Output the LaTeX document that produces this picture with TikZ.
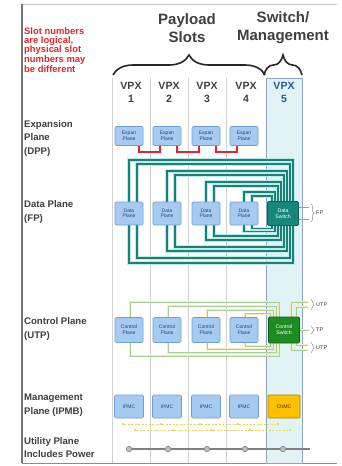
\documentclass[tikz,border=0pt]{standalone}
\usepackage{fontspec}
\setmainfont{Liberation Sans}
\usetikzlibrary{decorations.pathreplacing}
\pgfdeclarelayer{bg}
\pgfdeclarelayer{wires}
\pgfsetlayers{bg,wires,main}

\definecolor{boxfill}{HTML}{A7CBF0}
\definecolor{boxline}{HTML}{6E9ED6}
\definecolor{boxtext}{HTML}{1F3F7A}
\definecolor{tealwire}{HTML}{1C8077}
\definecolor{tealhalo}{HTML}{BDEBEA}
\definecolor{dswfill}{HTML}{17877C}
\definecolor{dswline}{HTML}{0E5F57}
\definecolor{cswfill}{HTML}{1E8C23}
\definecolor{cswline}{HTML}{0F5F12}
\definecolor{chmcfill}{HTML}{FFC000}
\definecolor{chmcline}{HTML}{B07A00}
\definecolor{slotfill}{HTML}{E2F3F8}
\definecolor{slotline}{HTML}{8EA3C6}
\definecolor{labelgray}{HTML}{3F3F3F}
\definecolor{notered}{HTML}{E0262B}
\definecolor{ctlwire}{HTML}{A9CF8E}
\definecolor{ctlhalo}{HTML}{F3EDB8}
\definecolor{busyellow}{HTML}{E9D84A}
\definecolor{slotblue}{HTML}{2F5597}

\begin{document}
\begin{tikzpicture}[x=1pt,y=-1pt,
  pbox/.style={draw=boxline, fill=boxfill, rounded corners=1.2pt, line width=0.6pt,
    minimum width=28pt, inner sep=0pt, align=center, text=boxtext,
    font=\fontsize{5}{5.6}\selectfont},
  swbox/.style={rounded corners=1.2pt, line width=0.7pt, minimum width=31pt,
    inner sep=0pt, align=center, font=\fontsize{5.2}{5.8}\selectfont},
  plane/.style={anchor=west, align=left, text=labelgray, inner sep=0pt,
    font=\bfseries\fontsize{9.6}{13.5}\selectfont},
  slotlab/.style={align=center, text=labelgray, inner sep=0pt,
    font=\bfseries\fontsize{10.5}{12.5}\selectfont},
  title/.style={align=center, text=labelgray, inner sep=0pt,
    font=\bfseries\fontsize{15}{18}\selectfont},
  sidelab/.style={anchor=west, text=labelgray, inner sep=0pt,
    font=\fontsize{5.5}{6}\selectfont},
  fpwire/.style={draw=tealwire, line width=1.2pt,
    preaction={draw=tealhalo, line width=3.4pt}},
  cpwire/.style={draw=ctlwire, line width=0.7pt,
    preaction={draw=ctlhalo, line width=2pt}},
  xlink/.style={draw=notered, line width=1.4pt},
  bigbrace/.style={decorate, decoration={brace, amplitude=20pt}, line width=1.6pt, draw=black!85},
  tinybrace/.style={decorate, decoration={brace, amplitude=3pt}, line width=0.5pt, draw=black!45},
  bus/.style={draw=busyellow, line width=0.6pt, dash pattern=on 2pt off 1.5pt},
  busmark/.style={circle, fill=busyellow!80!orange, inner sep=0pt, minimum size=2.4pt},
  tap/.style={circle, draw=black!55, fill=black!25, line width=0.5pt, inner sep=0pt, minimum size=5.5pt}]

\useasboundingbox (0,0) rectangle (341,466);

% frame and slot columns
\begin{pgfonlayer}{bg}
  \fill[white] (0,0) rectangle (341,466);
  \draw[black!22, line width=0.8pt] (22,4) -- (337,4);
  \draw[black!45, line width=0.8pt] (22,463) -- (337,463);
  \draw[black!55, line width=1.3pt] (22,4) -- (22,463);
  \draw[fill=slotfill, draw=slotline, line width=0.6pt] (266,78) rectangle (302,463);
  \foreach \x in {112,150,188,226}
    \draw[black!18, line width=0.6pt] (\x,78) -- (\x,463);
\end{pgfonlayer}

% note and headings
\node[anchor=west, align=left, text=notered, inner sep=0pt,
  font=\bfseries\fontsize{9.4}{8.7}\selectfont] (note) at (24,50)
  {Slot numbers\\are logical,\\physical slot\\numbers may\\be different};
\node[title] (payload) at (187,28) {Payload\\Slots};
\node[title] (swmgmt) at (283,28) {Switch/\\Management};
\draw[bigbrace] (113,75) -- (265,75);
\draw[bigbrace] (264,75) -- (302,75);

\node[slotlab] (s1) at (131,92.5) {VPX\\1};
\node[slotlab] (s2) at (169,92.5) {VPX\\2};
\node[slotlab] (s3) at (207,92.5) {VPX\\3};
\node[slotlab] (s4) at (246,92.5) {VPX\\4};
\node[slotlab, text=slotblue] (s5) at (284,92.5) {VPX\\5};

% plane names
\node[plane] (lexp) at (24,138.5) {Expansion\\Plane\\(DPP)};
\node[plane] (ldata) at (24,212) {Data Plane\\(FP)};
\node[plane] (lctl) at (24,329) {Control Plane\\(UTP)};
\node[plane] (lmgmt) at (24,405) {Management\\Plane (IPMB)};
\node[plane] (lutil) at (24,447.5) {Utility Plane\\Includes Power};

% expansion plane
\foreach \i/\c in {1/129,2/167,3/206,4/244}
  \node[pbox, minimum height=19pt] (ep\i) at (\c,136) {Expan\\Plane};
\draw[xlink] ([xshift=10pt]ep1.south) -- ++(0,6) -| ([xshift=-7pt]ep2.south);
\draw[xlink] ([xshift=10pt]ep2.south) -- ++(0,6) -| ([xshift=-7pt]ep3.south);
\draw[xlink] ([xshift=10pt]ep3.south) -- ++(0,6) -| ([xshift=-7pt]ep4.south);

% data plane
\foreach \i/\c in {1/129,2/167,3/206,4/244}
  \node[pbox, minimum height=23pt] (dp\i) at (\c,213.5) {Data\\Plane};
\node[swbox, draw=dswline, fill=dswfill, text=white, minimum height=24pt]
  (ds) at (283,213.5) {Data\\Switch};

\begin{pgfonlayer}{wires}
\foreach \i/\ta/\tb/\ba/\bb/\ra/\rb in
  {1/160/164/263/258/293/290, 2/171/175/251/247/287/284,
   3/182/186/240/236/281/278, 4/192/196/231.5/228.5/275/272} {
  \draw[fpwire] (dp\i.north) |- (\ra,\ta) -- (\ra,0 |- ds.north);
  \draw[fpwire] ([xshift=8pt]dp\i.north) |- (\rb,\tb) -- (\rb,0 |- ds.north);
  \draw[fpwire] (dp\i.south) |- (\ra,\ba) -- (\ra,0 |- ds.south);
  \draw[fpwire] ([xshift=8pt]dp\i.south) |- (\rb,\bb) -- (\rb,0 |- ds.south);
}
\end{pgfonlayer}

\coordinate (fpa) at (309,207);
\coordinate (fpb) at (309,219);
\draw[draw=tealwire!60, line width=0.6pt] (ds.east |- fpa) -- (fpa);
\draw[draw=tealwire!60, line width=0.6pt] (ds.east |- fpb) -- (fpb);
\draw[tinybrace] (311,204) -- (311,222);
\node[sidelab] (fp) at (316,213) {FP};

% control plane
\foreach \i/\c in {1/129,2/167,3/206,4/244}
  \node[pbox, minimum height=25pt] (cp\i) at (\c,330) {Control\\Plane};
\node[swbox, draw=cswline, fill=cswfill, text=white, minimum height=26pt]
  (cs) at (284,330) {Control\\Switch};

\begin{pgfonlayer}{wires}
\foreach \i/\ta/\ba/\ra in {1/302/356/279, 2/306/352.5/276, 3/310/349/273, 4/313.5/346/270} {
  \draw[cpwire] ([xshift=1pt]cp\i.north) |- (\ra,\ta) -- (\ra,0 |- cs.north);
  \draw[cpwire] ([xshift=1pt]cp\i.south) |- (\ra,\ba) -- (\ra,0 |- cs.south);
}
\coordinate (uta) at (308,302);
\coordinate (utb) at (308,307);
\coordinate (ubb) at (308,345);
\coordinate (uba) at (308,350);
\coordinate (tpa) at (309,330);
\draw[cpwire] (291,0 |- cs.north) |- (uta);
\draw[cpwire] (296,0 |- cs.north) |- (utb);
\draw[cpwire] (291,0 |- cs.south) |- (uba);
\draw[cpwire] (296,0 |- cs.south) |- (ubb);
\draw[cpwire] (cs.east) -- (tpa);
\end{pgfonlayer}
\draw[tinybrace] (311,299) -- (311,310);
\draw[tinybrace] (311,326) -- (311,334);
\draw[tinybrace] (311,342) -- (311,353);
\node[sidelab] (utp1) at (316,304.5) {UTP};
\node[sidelab] (tp) at (316,330) {TP};
\node[sidelab] (utp2) at (316,347.5) {UTP};

% management plane
\foreach \i/\c in {1/129,2/167,3/206,4/244}
  \node[pbox, minimum height=23pt, minimum width=29pt] (im\i) at (\c,406.5) {IPMC};
\node[swbox, draw=chmcline, fill=chmcfill, text=black!80, minimum height=23pt,
  minimum width=32pt] (chmc) at (284,406.5) {ChMC};

\foreach \i/\c in {1/129,2/167,3/206,4/244,5/284} {
  \node[busmark] (ba\i) at (\c-6,424) {};
  \node[busmark] (bb\i) at (\c+6,430) {};
}
\begin{pgfonlayer}{wires}
  \draw[bus] (ba1) -- (ba2) -- (ba3) -- (ba4) -- (ba5);
  \draw[bus] (bb1) -- (bb2) -- (bb3) -- (bb4) -- (bb5);
\end{pgfonlayer}

% utility plane
\foreach \i/\c in {1/129,2/168,3/207,4/245,5/283}
  \node[tap] (u\i) at (\c,449) {};
\coordinate (uend) at (310,449);
\begin{pgfonlayer}{wires}
  \draw[black!50, line width=2pt] (u1) -- (u2) -- (u3) -- (u4) -- (u5) -- (uend);
\end{pgfonlayer}

\end{tikzpicture}
\end{document}
